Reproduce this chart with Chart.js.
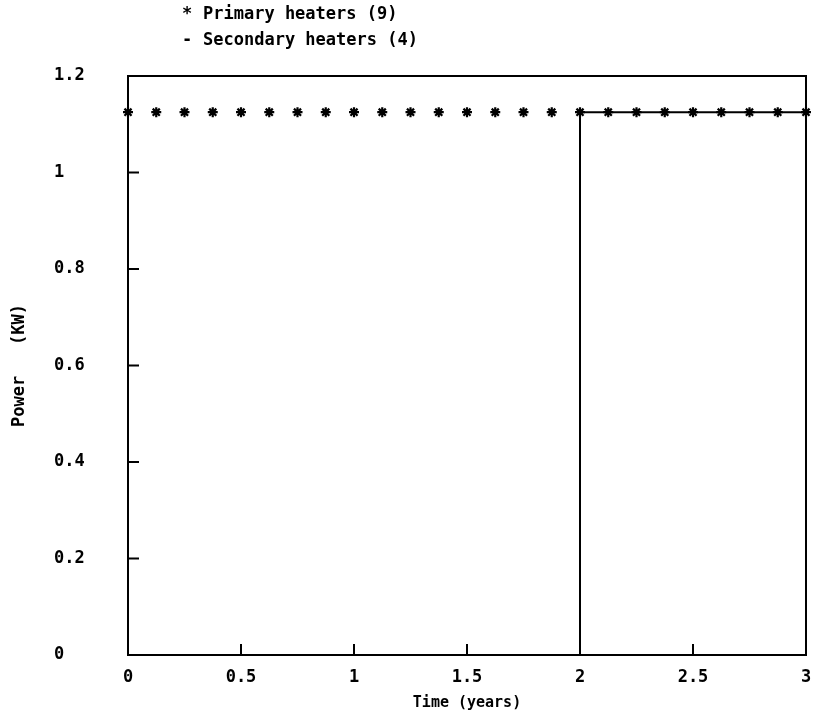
<!DOCTYPE html>
<html>
<head>
<meta charset="utf-8">
<title>Heater power</title>
<script src="https://cdn.jsdelivr.net/npm/chart.js@4.4.1/dist/chart.umd.min.js"></script>
<style>
  html, body { margin: 0; padding: 0; background: #ffffff; }
  #wrap { position: relative; width: 813px; height: 718px; }
</style>
</head>
<body>
<div id="wrap"><canvas id="chart" width="813" height="718"></canvas></div>
<script>
// Time samples (years) and power (kW) for the primary heaters
const primaryTime = [0, 0.125, 0.25, 0.375, 0.5, 0.625, 0.75, 0.875, 1, 1.125, 1.25, 1.375, 1.5,
                     1.625, 1.75, 1.875, 2, 2.125, 2.25, 2.375, 2.5, 2.625, 2.75, 2.875, 3];
const primaryPower = [1.125, 1.125, 1.125, 1.125, 1.125, 1.125, 1.125, 1.125, 1.125, 1.125, 1.125, 1.125, 1.125,
                      1.125, 1.125, 1.125, 1.125, 1.125, 1.125, 1.125, 1.125, 1.125, 1.125, 1.125, 1.125];

// Secondary heaters: off for the first two years, then switched on
const secondaryTime = [0, 2, 2, 3];
const secondaryPower = [0, 0, 1.125, 1.125];

// Series names and the key marker character for each
const seriesLabels = ['Primary heaters (9)', 'Secondary heaters (4)'];
const seriesMarkers = ['*', '-'];

// Axis ticks
const xTickValues = [0, 0.5, 1, 1.5, 2, 2.5, 3];
const xTickLabels = ['0', '0.5', '1', '1.5', '2', '2.5', '3'];
const yTickValues = [0, 0.2, 0.4, 0.6, 0.8, 1, 1.2];
const yTickLabels = ['0', '0.2', '0.4', '0.6', '0.8', '1', '1.2'];

const xTitle = 'Time (years)';
const yTitle = 'Power   (KW)';

const FONT_FAMILY = '"DejaVu Sans Mono", "Liberation Mono", monospace';
const INK = '#000000';

const toPoints = (xs, ys) => xs.map((x, i) => ({ x: x, y: ys[i] }));

// Closed frame around the plot area plus short inward tick marks
const framePlugin = {
  id: 'frame',
  afterDatasetsDraw(chart) {
    const { ctx, chartArea: a, scales } = chart;
    ctx.save();
    ctx.strokeStyle = INK;
    ctx.lineWidth = 2;
    ctx.strokeRect(a.left, a.top, a.right - a.left, a.bottom - a.top);
    ctx.beginPath();
    const tickLen = 11;
    xTickValues.slice(1, -1).forEach(v => {
      const px = scales.x.getPixelForValue(v);
      ctx.moveTo(px, a.bottom);
      ctx.lineTo(px, a.bottom - tickLen);
    });
    yTickValues.slice(1, -1).forEach(v => {
      const py = scales.y.getPixelForValue(v);
      ctx.moveTo(a.left, py);
      ctx.lineTo(a.left + tickLen, py);
    });
    ctx.stroke();
    ctx.restore();
  }
};

// Vertical axis title and the two-line key above the plot
const textPlugin = {
  id: 'texts',
  afterDraw(chart) {
    const { ctx, chartArea: a } = chart;
    ctx.save();
    ctx.fillStyle = INK;
    ctx.font = 'bold 17px ' + FONT_FAMILY;
    ctx.textBaseline = 'middle';

    ctx.save();
    ctx.translate(20, (a.top + a.bottom) / 2);
    ctx.rotate(-Math.PI / 2);
    ctx.textAlign = 'center';
    ctx.fillText(yTitle, 0, 0);
    ctx.restore();

    ctx.textAlign = 'left';
    const keyY = [15, 41];
    chart.data.datasets.forEach((ds, i) => {
      ctx.fillText(seriesMarkers[i], 182, keyY[i]);
      ctx.fillText(ds.label, 203, keyY[i]);
    });
    ctx.restore();
  }
};

new Chart(document.getElementById('chart'), {
  type: 'scatter',
  data: {
    datasets: [
      {
        label: seriesLabels[0],
        data: toPoints(primaryTime, primaryPower),
        showLine: false,
        pointStyle: 'star',
        pointRadius: 5,
        pointBorderWidth: 2.2,
        borderColor: INK,
        backgroundColor: INK,
        clip: false
      },
      {
        label: seriesLabels[1],
        data: toPoints(secondaryTime, secondaryPower),
        showLine: true,
        borderColor: INK,
        borderWidth: 2,
        pointRadius: 0,
        fill: false,
        clip: false
      }
    ]
  },
  options: {
    responsive: false,
    animation: false,
    devicePixelRatio: 1,
    layout: { autoPadding: false, padding: { top: 76, left: 54, right: 7, bottom: 0 } },
    plugins: {
      legend: { display: false },
      tooltip: { enabled: false }
    },
    scales: {
      x: {
        type: 'linear',
        min: 0,
        max: 3,
        border: { display: false },
        grid: { display: false, drawTicks: false },
        afterBuildTicks: s => { s.ticks = xTickValues.map(v => ({ value: v })); },
        afterFit: s => { s.height = 63; s.paddingLeft = 0; s.paddingRight = 0; },
        ticks: {
          padding: 12,
          color: INK,
          maxRotation: 0,
          autoSkip: false,
          font: { family: FONT_FAMILY, size: 17, weight: 'bold' },
          callback: (v, i) => xTickLabels[i]
        },
        title: {
          display: true,
          text: xTitle,
          color: INK,
          font: { family: FONT_FAMILY, size: 15, weight: 'bold' },
          padding: { top: 6, bottom: 6 }
        }
      },
      y: {
        type: 'linear',
        min: 0,
        max: 1.2,
        border: { display: false },
        grid: { display: false, drawTicks: false },
        afterBuildTicks: s => { s.ticks = yTickValues.map(v => ({ value: v })); },
        afterFit: s => { s.width = 74; },
        ticks: {
          crossAlign: 'far',
          color: INK,
          autoSkip: false,
          font: { family: FONT_FAMILY, size: 17, weight: 'bold' },
          callback: (v, i) => yTickLabels[i]
        }
      }
    }
  },
  plugins: [framePlugin, textPlugin]
});
</script>
</body>
</html>
